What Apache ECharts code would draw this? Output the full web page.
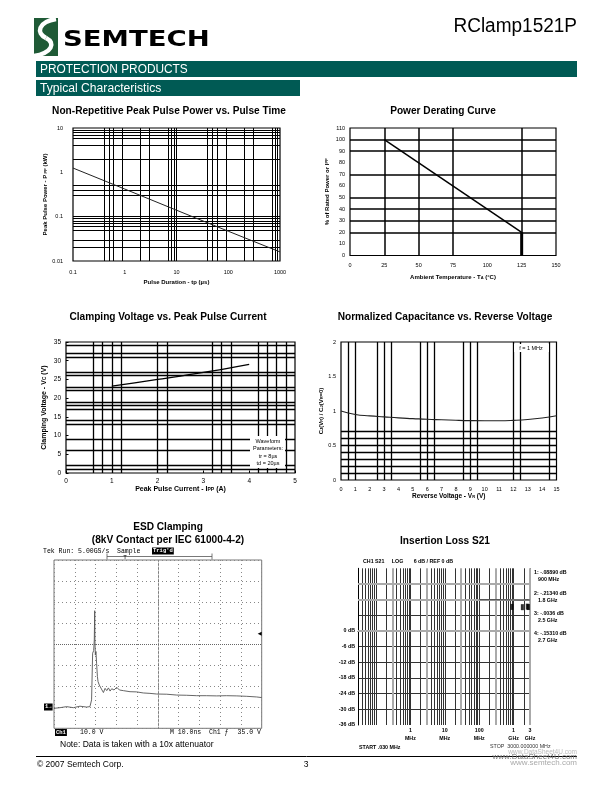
<!DOCTYPE html>
<html>
<head>
<meta charset="utf-8">
<script src="https://cdn.jsdelivr.net/npm/echarts@6/dist/echarts.min.js"></script>
<style>
html, body { margin: 0; padding: 0; background: #fff; }
#page { width: 612px; height: 792px; }
</style>
</head>
<body>
<div id="page"></div>
<script>
var SANS = "'Liberation Sans', Arial, sans-serif";
var MONO = "'Liberation Mono', 'DejaVu Sans Mono', monospace";
var TEAL = '#005a54';

// Non-Repetitive Peak Pulse Power vs. Pulse Time
var pulseTimeUs = [0.1, 1, 10, 100, 1000];
var pulsePowerKw = [1.25, 0.42, 0.14, 0.047, 0.016];
var ppGridX = [0.4, 0.5, 0.6, 0.9, 2, 3, 7, 8, 9, 10, 40, 50, 60, 90, 200, 300, 700, 800, 900];
var ppGridY = [9, 8, 7, 6, 4, 2, 0.5, 0.4, 0.3, 0.1, 0.09, 0.08, 0.07, 0.06, 0.05, 0.03, 0.02];

// Power Derating Curve
var derateTempC = [25, 125];
var deratePct = [100, 20];
var cutoffTempC = [125, 125];
var cutoffPct = [20, 0];
var drGridX = [25, 50, 75, 125];
var drGridY = [20, 30, 40, 50, 70, 90, 100];

// Clamping Voltage vs. Peak Pulse Current
var ippA = [1, 1.5, 2, 2.5, 3, 3.5, 4];
var vcV = [23.2, 24.1, 25.0, 25.9, 26.9, 27.9, 29.0];
var cvGridX = [0.6, 0.8, 1, 1.2, 2, 2.2, 3.2, 3.4, 3.6, 4.2, 4.4, 4.6, 4.8];
var cvGridY = [34, 32, 31, 27, 26, 23, 22, 19, 18, 17, 14, 13, 9, 6, 2, 1];

// Normalized Capacitance vs. Reverse Voltage
var vrV = [0, 1, 2, 3, 4, 5, 6, 7, 8, 9, 10, 11, 12, 13, 14, 15];
var cjNorm = [1.0, 0.95, 0.93, 0.915, 0.9, 0.89, 0.88, 0.873, 0.866, 0.861, 0.859, 0.859, 0.864, 0.876, 0.898, 0.93];
var ncGridX = [0.5, 1, 2.5, 3, 3.5, 5.5, 6, 6.5, 8.5, 9, 9.5, 12, 12.5, 14.5];
var ncGridY = [0.1, 0.2, 0.3, 0.4, 0.5, 0.6, 0.7];

// ESD Clamping (scope trace, 10 ns/div, 10 V/div)
var esdTimeNs = [0, 2.9, 6.1, 9.3, 12.5, 15.7, 17.3, 18.1, 18.6, 19.1, 19.4, 19.6, 19.7, 19.9, 20.2, 20.5,
  20.9, 21.2, 21.5, 21.8, 22.5, 23.1, 23.8, 24.6, 25.4, 26.2, 27.0, 27.8, 28.9, 30.2, 31.5, 33.4,
  36.6, 39.8, 43.0, 46.2, 49.4, 54.3, 59.1, 63.9, 68.7, 73.5, 78.3, 83.1, 88.0, 92.8, 97.6, 100];
var esdVolt = [-0.5, -0.2, 0.3, -0.2, 0.5, 0.1, 0.3, 3.5, 25.7, 26.9, 32.0, 45.9, 32.0, 24.9, 26.5, 20.9,
  14.6, 12.2, 13.0, 10.6, 11.4, 8.2, 7.0, 9.0, 7.9, 9.2, 7.7, 8.8, 8.2, 9.5, 8.2, 7.9,
  7.4, 7.3, 6.8, 6.6, 6.3, 6.2, 5.8, 5.7, 5.5, 5.5, 5.4, 5.5, 5.4, 5.2, 4.9, 4.6];

// Insertion Loss S21
var ilFreqLow = [0.03, 0.1, 1, 10, 100];
var ilTraceLow = [12, 12, 12, 12, 12];
var ilFreqHigh = [100, 300, 900, 1800, 2500, 2700, 3000];
var ilTraceHigh = [12, 12, 11.9, 11.8, 12, 11.85, 11.8];
var ilMarkerMHz = [900, 1800, 2500, 2700];
var ilMarkerDisp = [11.9, 11.8, 12, 11.85];
var ilMarkerText = ['1: -.08890 dB', '2: -.21340 dB', '3: -.0036 dB', '4: -.15310 dB'];
var ilMarkerFreqText = ['900 MHz', '1.8 GHz', '2.5 GHz', '2.7 GHz'];
var ilTickMHz = [1, 10, 100, 1000, 3000];
var ilTickText = ['1\nMHz', '10\nMHz', '100\nMHz', '1\nGHz', '3\nGHz'];
var ilGridDbBlack = [6, -6, -12, -18, -24, -30];
var ilGridDbGrey = [18, 12, 0];

function zip(a, b) {
  return a.map(function (v, i) { return [v, b[i]]; });
}

function gridLines(xs, ys, color, width, type) {
  return {
    silent: true, symbol: 'none', animation: false,
    label: {show: false},
    emphasis: {disabled: true},
    lineStyle: {color: color || '#000', width: width || 1, type: type || 'solid'},
    data: xs.map(function (v) { return {xAxis: v}; }).concat(ys.map(function (v) { return {yAxis: v}; }))
  };
}

function axis(grid, type, o) {
  var a = {
    gridIndex: grid, type: type,
    axisLine: {show: false}, axisTick: {show: false}, splitLine: {show: false},
    axisLabel: {fontSize: 5.5, fontFamily: SANS, color: '#000', margin: 6},
    nameLocation: 'middle',
    nameTextStyle: {fontSize: 6, fontWeight: 'bold', fontFamily: SANS, color: '#000'}
  };
  return echarts.util.merge(a, o || {}, true);
}

// split lines drawn at the given values (crisp, through the axis itself)
function gridAt(values, color, width) {
  return {
    axisTick: {show: false, customValues: values},
    splitLine: {show: true, lineStyle: {color: color || '#000', width: width || 1}}
  };
}

function logLabel(v) {
  return String(+Number(v).toPrecision(3));
}

var graphics = [];
function txt(x, y, s, size, o) {
  o = o || {};
  var el = {
    type: 'text', x: x, y: y, silent: true, z: 100,
    style: {
      text: s, fontSize: size, fontFamily: o.family || SANS, fontWeight: o.weight || 'normal',
      fill: o.fill || '#000', textAlign: o.align || 'left', textVerticalAlign: 'middle'
    }
  };
  if (o.sx) el.scaleX = o.sx;
  if (o.bg) { el.style.backgroundColor = o.bg; el.style.padding = [1, 1, 0, 1]; }
  if (o.lh) el.style.lineHeight = o.lh;
  graphics.push(el);
}
function rect(x, y, w, h, fill, stroke) {
  graphics.push({type: 'rect', silent: true, z: 90, shape: {x: x, y: y, width: w, height: h},
    style: {fill: fill, stroke: stroke || null, lineWidth: 1}});
}
function line(x1, y1, x2, y2, color, w) {
  graphics.push({type: 'line', silent: true, z: 90, shape: {x1: x1, y1: y1, x2: x2, y2: y2},
    style: {stroke: color, lineWidth: w || 1}});
}

// header
rect(34, 18, 24, 38, '#1f5a36');
graphics.push({type: 'bezierCurve', silent: true, z: 95,
  shape: {x1: 56, y1: 19, cpx1: 38, cpy1: 22, cpx2: 36, cpy2: 33, x2: 46, y2: 38},
  style: {stroke: '#fff', lineWidth: 4.5, fill: null}});
graphics.push({type: 'bezierCurve', silent: true, z: 95,
  shape: {x1: 46, y1: 38, cpx1: 56, cpy1: 43, cpx2: 52, cpy2: 53, x2: 34, y2: 56},
  style: {stroke: '#fff', lineWidth: 4.5, fill: null}});
txt(63, 40, 'SEMTECH', 22, {weight: 'bold', family: "'DejaVu Sans', sans-serif", sx: 1.25});
txt(577, 26, 'RClamp1521P', 20, {align: 'right', sx: 0.95});
rect(36, 61, 541, 16, TEAL);
txt(40, 69.5, 'PROTECTION PRODUCTS', 12.5, {fill: '#fff', sx: 0.95});
rect(36, 80, 264, 16, TEAL);
txt(40, 88.5, 'Typical Characteristics', 12.5, {fill: '#fff', sx: 0.97});

// chart titles
var TT = {weight: 'bold', align: 'center', sx: 0.92};
txt(169, 111, 'Non-Repetitive Peak Pulse Power vs. Pulse Time', 11, TT);
txt(443, 111, 'Power Derating Curve', 11, TT);
txt(168, 317, 'Clamping Voltage vs. Peak Pulse Current', 11, TT);
txt(445, 317, 'Normalized Capacitance vs. Reverse Voltage', 11, TT);
txt(168, 527, 'ESD Clamping', 11, TT);
txt(168, 540, '(8kV Contact per IEC 61000-4-2)', 11, TT);
txt(445, 541, 'Insertion Loss S21', 11, TT);

// legend boxes
rect(250, 436, 35, 32, '#fff');
txt(268, 441, 'Waveform', 5.5, {align: 'center'});
txt(268, 448.5, 'Parameters:', 5.5, {align: 'center'});
txt(268, 456, 'tr = 8\u00b5s', 5.5, {align: 'center'});
txt(268, 463.5, 'td = 20\u00b5s', 5.5, {align: 'center'});
rect(514, 344, 35, 8, '#fff');
txt(531, 348, 'f = 1 MHz', 5.5, {align: 'center'});

// scope annotations
txt(43, 551, 'Tek Run: 5.00GS/s', 6.5, {family: MONO});
txt(117, 551, 'Sample', 6.5, {family: MONO});
txt(152, 551, "Trig'd", 5.5, {family: MONO, fill: '#fff', bg: '#000', weight: 'bold'});
line(107, 556.5, 212, 556.5, '#555', 0.8);
line(107, 553.5, 107, 559.5, '#555', 0.8);
line(212, 553.5, 212, 559.5, '#555', 0.8);
txt(125, 557, 'T', 6, {family: MONO, align: 'center'});
txt(55, 732.5, 'Ch1', 5.5, {family: MONO, fill: '#fff', bg: '#000', weight: 'bold'});
txt(80, 732.5, '10.0 V', 6.5, {family: MONO});
txt(170, 732.5, 'M 10.0ns  Ch1 \u0192', 6.5, {family: MONO});
txt(261, 732.5, '35.0 V', 6.5, {family: MONO, align: 'right'});
txt(44, 707, '1\u2192', 5.5, {family: MONO, fill: '#fff', bg: '#000', weight: 'bold'});
txt(60, 745, 'Note: Data is taken with a 10x attenuator', 8.5);

// network analyzer annotations
var NA = {weight: 'bold'};
txt(363, 562, 'CH1 S21     LOG       6 dB / REF 0 dB', 5.3, NA);
for (var i = 0; i < ilMarkerText.length; i++) {
  txt(534, 573 + i * 20.2, ilMarkerText[i], 5.3, NA);
  txt(538, 580 + i * 20.2, ilMarkerFreqText[i], 5.3, NA);
}
txt(359, 748, 'START .030 MHz', 5.3, NA);
txt(490, 747, 'STOP  3000.000000 MHz', 5.3, {fill: '#333'});
txt(577, 752.5, 'www.DataSheet4U.com', 6.5, {align: 'right', fill: '#bbb'});

// footer
line(36, 756.5, 577, 756.5, '#000', 1);
txt(37, 765, '\u00a9 2007 Semtech Corp.', 8.5);
txt(306, 765, '3', 8.5, {align: 'center'});
txt(577, 757, 'www.DataSheet4U.com', 8, {align: 'right', fill: '#777'});
txt(577, 763, 'www.semtech.com', 8, {align: 'right', fill: '#aaa'});

// insertion loss vertical grid (log decades, 1..9)
var ilGridX = [], ilGridGrey = [];
[0.01, 0.1, 1, 10, 100, 1000].forEach(function (d) {
  for (var k = 1; k <= 9; k++) {
    var f = +(k * d).toPrecision(3);
    if (f > 0.03 && f <= 3000) (k === 3 ? ilGridGrey : ilGridX).push(f);
  }
});
ilGridX.push(3000);

function subName(rich) {
  return echarts.util.merge({
    rich: {b: {fontSize: 6, fontWeight: 'bold', fontFamily: SANS}, s: {fontSize: 4, fontWeight: 'bold', fontFamily: SANS}}
  }, rich || {}, true);
}

var option = {
  animation: false,
  backgroundColor: '#fff',
  graphic: {elements: graphics},
  grid: [
    {left: 73, top: 128, width: 207, height: 133, show: true, borderColor: '#000', borderWidth: 1.2},
    {left: 350, top: 128, width: 206, height: 127.5, show: true, borderColor: '#000', borderWidth: 1.2},
    {left: 66, top: 342, width: 229, height: 131, show: true, borderColor: '#000', borderWidth: 1.2},
    {left: 341, top: 342, width: 215.5, height: 138, show: true, borderColor: '#000', borderWidth: 1.2},
    {left: 54, top: 560, width: 207.7, height: 168.3, show: true, borderColor: '#777', borderWidth: 1},
    {left: 358, top: 568.3, width: 172, height: 156.7}
  ],
  xAxis: [
    axis(0, 'log', echarts.util.merge({min: 0.1, max: 1000, axisLabel: {margin: 8, formatter: logLabel},
      name: 'Pulse Duration - tp (\u00b5s)', nameGap: 18}, gridAt(ppGridX))),
    axis(1, 'value', echarts.util.merge({min: 0, max: 150, interval: 25, axisLabel: {margin: 7},
      name: '{b|Ambient Temperature - T}{s|A}{b| (\u00b0C)}', nameGap: 19, nameTextStyle: subName()},
      gridAt(drGridX, '#000', 1.5))),
    axis(2, 'value', echarts.util.merge({min: 0, max: 5, interval: 1, axisLabel: {fontSize: 6.5, margin: 5},
      name: '{b|Peak Pulse Current - I}{s|PP}{b| (A)}', nameGap: 12,
      nameTextStyle: subName({rich: {b: {fontSize: 7}, s: {fontSize: 5}}})}, gridAt(cvGridX, '#000', 1.3))),
    axis(3, 'value', echarts.util.merge({min: 0, max: 15, interval: 1, axisLabel: {margin: 6},
      name: '{b|Reverse Voltage - V}{s|R}{b| (V)}', nameGap: 12.5,
      nameTextStyle: subName({rich: {b: {fontSize: 6.5}}})}, gridAt(ncGridX, '#000', 1.3))),
    axis(4, 'value', {min: 0, max: 100, interval: 10, axisLabel: {show: false},
      splitLine: {show: true, lineStyle: {color: '#888', width: 1, type: [1, 3]}}}),
    axis(5, 'log', echarts.util.merge({min: 0.03, max: 3000, axisLine: {show: true, lineStyle: {color: '#000', width: 1}},
      axisLabel: {customValues: ilTickMHz, fontSize: 5.3, fontWeight: 'bold', lineHeight: 8, margin: 2,
        formatter: function (v) {
          for (var i = 0; i < ilTickMHz.length; i++) {
            if (Math.abs(Math.log10(v) - Math.log10(ilTickMHz[i])) < 0.01) return ilTickText[i];
          }
          return '';
        }}}, gridAt(ilGridX, '#333', 1))),
    // tick-only axes for the clamping voltage chart
    axis(2, 'value', {min: 0, max: 5, interval: 1, axisLabel: {show: false},
      axisTick: {show: true, length: 2.5, lineStyle: {color: '#000'}}})
  ],
  yAxis: [
    axis(0, 'log', echarts.util.merge({min: 0.01, max: 10, axisLabel: {margin: 10, formatter: logLabel},
      name: '{b|Peak Pulse Power - P}{s| PP}{b| (kW)}', nameGap: 23, nameTextStyle: subName()}, gridAt(ppGridY))),
    axis(1, 'value', echarts.util.merge({min: 0, max: 110, interval: 10, axisLabel: {margin: 5},
      name: '{b|% of Rated Power or I}{s|PP}', nameGap: 20, nameTextStyle: subName()}, gridAt(drGridY, '#000', 1.5))),
    axis(2, 'value', echarts.util.merge({min: 0, max: 35, interval: 5, axisLabel: {fontSize: 6.5, margin: 5},
      name: '{b|Clamping Voltage - V}{s|C}{b| (V)}', nameGap: 18,
      nameTextStyle: subName({rich: {b: {fontSize: 7}, s: {fontSize: 5}}})}, gridAt(cvGridY, '#000', 1.3))),
    axis(3, 'value', echarts.util.merge({min: 0, max: 2, interval: 0.5, axisLabel: {margin: 5},
      name: '{b|C}{s|J}{b|(V}{s|R}{b|) / C}{s|J}{b|(V}{s|R}{b|=0)}', nameGap: 15, nameTextStyle: subName()},
      gridAt(ncGridY, '#000', 1.3))),
    axis(4, 'value', {min: -10, max: 70, interval: 10, axisLabel: {show: false},
      splitLine: {show: true, lineStyle: {color: '#888', width: 1, type: [1, 3]}}}),
    axis(5, 'value', echarts.util.merge({min: -36, max: 24, interval: 6, axisLine: {show: true, lineStyle: {color: '#000', width: 1}},
      axisLabel: {fontSize: 5.3, fontWeight: 'bold', margin: 3,
        formatter: function (v) { return v <= 0 ? v + ' dB' : ''; }}}, gridAt(ilGridDbBlack, '#333', 1))),
    axis(2, 'value', {min: 0, max: 35, interval: 5, axisLabel: {show: false},
      axisTick: {show: true, length: 2.5, lineStyle: {color: '#000'}}})
  ],
  series: [
    {type: 'line', xAxisIndex: 0, yAxisIndex: 0, data: zip(pulseTimeUs, pulsePowerKw), symbol: 'none',
      lineStyle: {color: '#222', width: 1}},
    {type: 'line', xAxisIndex: 1, yAxisIndex: 1, data: zip(derateTempC, deratePct), symbol: 'none',
      lineStyle: {color: '#000', width: 1.5}},
    {type: 'line', xAxisIndex: 1, yAxisIndex: 1, data: zip(cutoffTempC, cutoffPct), symbol: 'none',
      lineStyle: {color: '#000', width: 3}},
    {type: 'line', xAxisIndex: 2, yAxisIndex: 2, data: zip(ippA, vcV), symbol: 'none', smooth: true,
      lineStyle: {color: '#000', width: 1.3}},
    {type: 'line', xAxisIndex: 3, yAxisIndex: 3, data: zip(vrV, cjNorm), symbol: 'none', smooth: true,
      lineStyle: {color: '#222', width: 1.1}},
    {type: 'line', xAxisIndex: 4, yAxisIndex: 4, data: zip(esdTimeNs, esdVolt), symbol: 'none',
      lineStyle: {color: '#555', width: 0.9},
      markLine: gridLines([50], [30], '#666', 1, [1, 1]),
      markPoint: {silent: true, symbol: 'triangle', symbolSize: [4, 4], symbolRotate: 90, symbolOffset: [-2, 0],
        itemStyle: {color: '#000'}, label: {show: false}, data: [{coord: [100, 35]}]}},
    {type: 'line', xAxisIndex: 5, yAxisIndex: 5, data: zip(ilFreqLow, ilTraceLow), symbol: 'none',
      lineStyle: {color: '#888', width: 1.2, type: [3, 4]},
      markLine: gridLines([], [], '#aaa', 2)},
    {type: 'line', xAxisIndex: 5, yAxisIndex: 5, data: zip(ilFreqHigh, ilTraceHigh), symbol: 'none',
      lineStyle: {color: '#555', width: 1.3}, z: 5},
    {type: 'scatter', xAxisIndex: 5, yAxisIndex: 5, data: zip(ilMarkerMHz, ilMarkerDisp), symbol: 'rect',
      symbolSize: [3, 6], symbolOffset: [0, 7], itemStyle: {color: '#000'}, z: 6}
  ]
};
option.series[6].markLine = gridLines(ilGridGrey, ilGridDbGrey, '#aaa', 2);

var chart = echarts.init(document.getElementById('page'), null, {renderer: 'canvas'});
chart.setOption(option);
</script>
</body>
</html>
